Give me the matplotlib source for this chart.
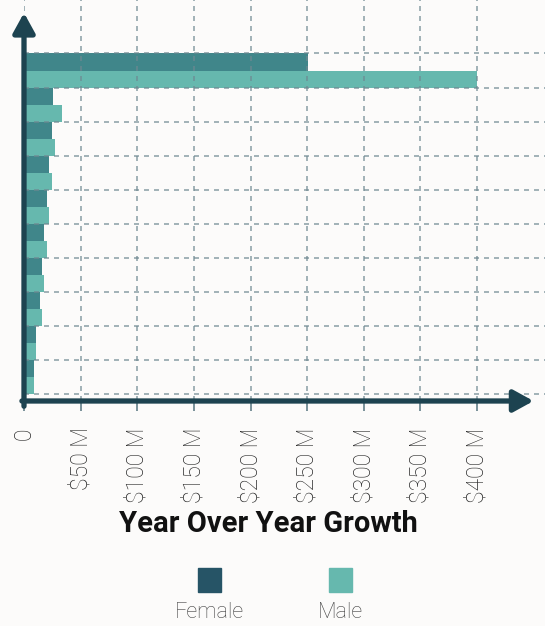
import matplotlib
matplotlib.use('Agg')
import matplotlib.pyplot as plt
from matplotlib.patches import Rectangle
import numpy as np

# values in $M, top row first
female = [250.5, 26, 24.5, 22, 20.3, 17.7, 15.9, 14.1, 10.6, 8.8]
male = [400, 33.8, 27.4, 24.7, 22, 20.3, 17.7, 15.9, 10.6, 8.8]
x_ticks = [0, 50, 100, 150, 200, 250, 300, 350, 400]
x_labels = ['0', '$50 M', '$100 M', '$150 M', '$200 M', '$250 M', '$300 M', '$350 M', '$400 M']
series = ['Female', 'Male']

bg = '#fcfbfa'
c_female = '#40868a'
c_male = '#66b8ae'
c_female_leg = '#265466'
c_axis = '#1d4350'
c_grid = '#6f8891'

W, H = 545, 626
fig = plt.figure(figsize=(W / 100, H / 100), dpi=100, facecolor=bg)
ax = fig.add_axes([24 / W, (H - 401) / H, 521 / W, 401 / H])
ax.set_facecolor(bg)

y = np.arange(len(female))
ax.barh(y - 0.25, female, height=0.5, color=c_female, zorder=1)
ax.barh(y + 0.25, male, height=0.5, color=c_male, zorder=1)

ax.set_xlim(0, 460)
ax.set_ylim(9.7, -2.07)

# grid
ax.set_xticks(x_ticks)
ax.set_xticklabels(x_labels, rotation=90, fontsize=16.5, color='#2a2a2a',
                   family='Roboto', fontweight='light')
ax.tick_params(axis='x', length=7, width=1.3, color=c_grid, pad=12)
ax.set_yticks([])
ax.set_yticks(np.arange(-0.5, 10, 1), minor=True)
ax.tick_params(axis='y', which='minor', length=0)
ax.grid(axis='x', which='major', linestyle=(0, (3, 3)), color=c_grid, alpha=0.75, lw=1.2, zorder=3)
ax.grid(axis='y', which='minor', linestyle=(0, (3, 3)), color=c_grid, alpha=0.75, lw=1.2, zorder=3)
ax.set_axisbelow(False)
for s in ax.spines.values():
    s.set_visible(False)

# axis arrows
arrow = dict(arrowstyle='-|>,head_length=1.0,head_width=0.55', mutation_scale=12,
             color=c_axis, lw=3.8, shrinkA=0, shrinkB=0)
ax.annotate('', xy=(0.0, 0.968), xytext=(0.0, -0.013), xycoords='axes fraction',
            textcoords='axes fraction', arrowprops=arrow, annotation_clip=False)
ax.annotate('', xy=(0.978, 0.0), xytext=(-0.004, 0.0), xycoords='axes fraction',
            textcoords='axes fraction', arrowprops=arrow, annotation_clip=False)

fig.text(268 / W, 1 - 524 / H, 'Year Over Year Growth', ha='center', va='center',
         fontsize=21, fontweight='bold', family='Roboto', color='#111111')

# legend
for cx, col, lab in [(209, c_female_leg, series[0]), (340, c_male, series[1])]:
    fig.patches.append(Rectangle(((cx - 11.5) / W, 1 - 592 / H), 23 / W, 24 / H,
                                 transform=fig.transFigure, color=col))
    fig.text(cx / W, 1 - 613 / H, lab, ha='center', va='center', fontsize=15.5,
             family='Roboto', fontweight='light', color='#404040')

fig.savefig('out.png', dpi=100, facecolor=bg)
